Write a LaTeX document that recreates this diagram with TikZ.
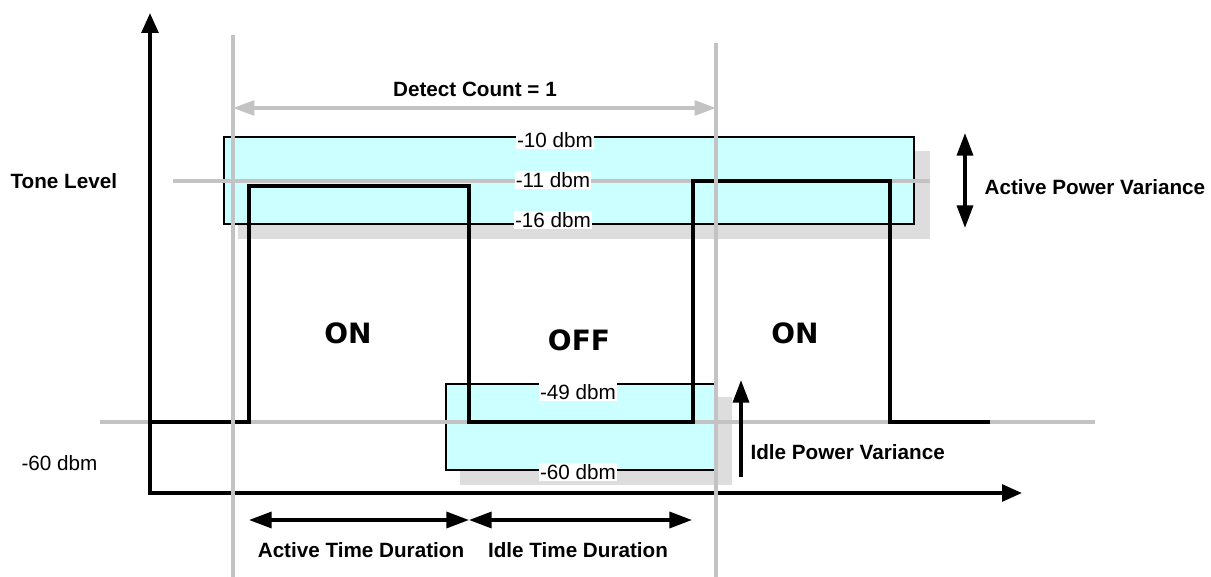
\documentclass[tikz,border=0pt]{standalone}
\usepackage{fontspec}
\setmainfont{Liberation Sans}
\newfontfamily\statefont{DejaVu Sans}
\usetikzlibrary{positioning,arrows.meta}
\definecolor{bandcyan}{HTML}{CCFFFF}
\definecolor{shadowgray}{HTML}{DDDDDD}
\definecolor{guidegray}{HTML}{C3C3C3}

\begin{document}
\begin{tikzpicture}[
  x=0.75pt, y=-0.75pt,
  font=\fontsize{15.5}{18}\selectfont,
  label/.style={font=\fontsize{15.5}{18}\selectfont\bfseries, inner sep=1pt},
  level/.style={fill=white, inner sep=1pt},
  state/.style={font=\statefont\fontsize{21}{24}\selectfont\bfseries},
  band/.style={draw, line width=0.8pt, fill=bandcyan},
  shade/.style={fill=shadowgray},
  guide/.style={draw=guidegray, line width=2.6pt},
  signal/.style={line width=2.8pt},
  span/.style={line width=2.6pt, {Triangle[length=17pt, width=12pt]}-{Triangle[length=17pt, width=12pt]}},
]
  \useasboundingbox (0,0) rectangle (1211,577);

  % variance bands with their shadows
  \fill[shade] (238,151) rectangle (930,239);
  \fill[shade] (460,397) rectangle (732,485);
  \draw[band] (224,137) rectangle (914,224);
  \draw[band] (446,384) rectangle (716,470);

  % tone and floor levels
  \coordinate (tonel) at (173,181);  \coordinate (toner) at (930,181);
  \coordinate (floorl) at (100,422); \coordinate (floorr) at (1095,422);
  \draw[guide] (tonel) -- (toner);
  \draw[guide] (floorl) -- (floorr);

  \node[level] (top10) at (555,140) {-10 dbm};
  \node[level] (top11) at (553,180) {-11 dbm};
  \node[level] (top16) at (553,220) {-16 dbm};
  \node[level] (idle49) at (578,392) {-49 dbm};
  \node[level] (idle60) at (578,472) {-60 dbm};

  % on/off signal
  \draw[signal] (150,422) -- (249,422) -- (249,186) -- (469,186) -- (469,422)
    -- (693,422) -- (693,181) -- (890,181) -- (890,422) -- (990,422);

  % axes
  \coordinate (origin) at (150,493);
  \coordinate (ytip) at (150,13);
  \coordinate (xtip) at (1022,493);
  \draw[line width=2.8pt, {Triangle[length=15pt, width=12.5pt]}-{Triangle[length=15pt, width=12.5pt]}] (ytip) -- (origin) -- (xtip);

  % detect window
  \coordinate (wintop1) at (233,35);  \coordinate (winbot1) at (233,577);
  \coordinate (wintop2) at (716,43);  \coordinate (winbot2) at (716,577);
  \draw[guide] (wintop1) -- (winbot1);
  \draw[guide] (wintop2) -- (winbot2);
  \coordinate (detl) at (233,108); \coordinate (detr) at (716,108);
  \draw[guide, {Triangle[length=16pt, width=11pt]}-{Triangle[length=16pt, width=11pt]}] (detl) -- (detr);
  \node[label] (detect) at (475,89) {Detect Count = 1};

  % variances
  \coordinate (actup) at (965,133); \coordinate (actdn) at (965,228);
  \draw[span] (actup) -- (actdn);
  \node[label, anchor=west] (activevar) at (983,187) {Active Power Variance};
  \coordinate (idledn) at (741,477); \coordinate (idleup) at (741,380);
  \draw[line width=2.6pt, -{Triangle[length=17pt, width=12pt]}] (idledn) -- (idleup);
  \node[label, anchor=west] (idlevar) at (749,452) {Idle Power Variance};

  % durations
  \coordinate (acts) at (249,520); \coordinate (mid) at (469,520); \coordinate (idlee) at (692,520);
  \draw[span] (acts) -- (mid);
  \draw[span] (mid) -- (idlee);
  \node[label] (activedur) at (361,550) {Active Time Duration};
  \node[label] (idledur) at (578,550) {Idle Time Duration};

  % axis and state labels
  \node[label, anchor=west] (tone) at (9,181) {Tone Level};
  \node[anchor=west, inner sep=1pt] (floor) at (20,463) {-60 dbm};
  \node[state] (on1) at (348,333) {ON};
  \node[state] (off) at (579,340) {OFF};
  \node[state] (on2) at (795,333) {ON};
\end{tikzpicture}
\end{document}
